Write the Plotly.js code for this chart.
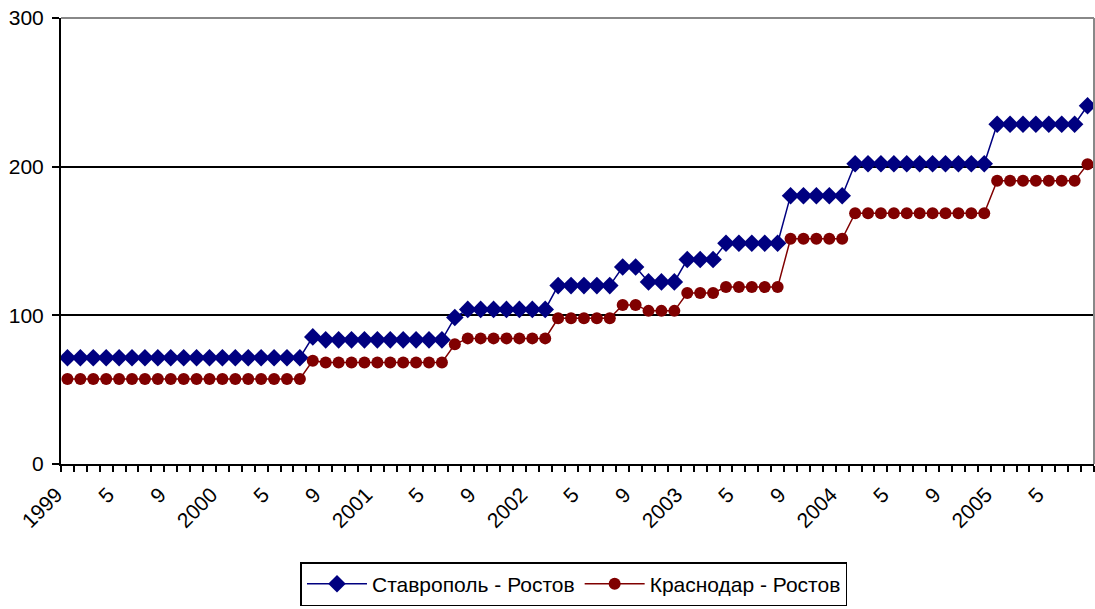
<!DOCTYPE html>
<html>
<head>
<meta charset="utf-8">
<script src="https://cdn.plot.ly/plotly-3.0.1.min.js"></script>
<style>
  html, body { margin: 0; padding: 0; background: #fff; }
  #chart { width: 1095px; height: 609px; }
</style>
</head>
<body>
<div id="chart"></div>
<script>
// Monthly tariffs, January 1999 – August 2005 (80 months)
const startYear = 1999;
const monthCount = 80;

const stavropolRostov = [
  71.5, 71.5, 71.5, 71.5, 71.5, 71.5, 71.5, 71.5, 71.5, 71.5,
  71.5, 71.5, 71.5, 71.5, 71.5, 71.5, 71.5, 71.5, 71.5, 85.5,
  83.5, 83.5, 83.5, 83.5, 83.5, 83.5, 83.5, 83.5, 83.5, 83.5,
  98.5, 104, 104, 104, 104, 104, 104, 104, 120, 120,
  120, 120, 120, 132.5, 132.5, 122.5, 122.5, 122.5, 137.5, 137.5,
  137.5, 148.5, 148.5, 148.5, 148.5, 148.5, 180.5, 180.5, 180.5, 180.5,
  180.5, 202, 202, 202, 202, 202, 202, 202, 202, 202,
  202, 202, 228.5, 228.5, 228.5, 228.5, 228.5, 228.5, 228.5, 241
];

const krasnodarRostov = [
  57.2, 57.2, 57.2, 57.2, 57.2, 57.2, 57.2, 57.2, 57.2, 57.2,
  57.2, 57.2, 57.2, 57.2, 57.2, 57.2, 57.2, 57.2, 57.2, 69.5,
  68.3, 68.3, 68.3, 68.3, 68.3, 68.3, 68.3, 68.3, 68.3, 68.3,
  80.5, 84.5, 84.5, 84.5, 84.5, 84.5, 84.5, 84.5, 98, 98,
  98, 98, 98, 107, 107, 103, 103, 103, 115, 115,
  115, 119, 119, 119, 119, 119, 151.5, 151.5, 151.5, 151.5,
  151.5, 168.7, 168.7, 168.7, 168.7, 168.7, 168.7, 168.7, 168.7, 168.7,
  168.7, 168.7, 190.5, 190.5, 190.5, 190.5, 190.5, 190.5, 190.5, 201.7
];

const seriesNames = ['Ставрополь - Ростов', 'Краснодар - Ростов'];
const yTicks = [0, 100, 200, 300];

// month index of each point; labelled every fourth month (Jan = year, May = 5, Sep = 9)
const monthIndex = stavropolRostov.map((_, i) => i);
const labelIndex = monthIndex.filter(i => i % 4 === 0);
const labelText = labelIndex.map(i => {
  const m = i % 12;
  return m === 0 ? String(startYear + i / 12) : String(m + 1);
});

const font = 'Liberation Sans, Arial, sans-serif';

const traces = [
  {
    x: monthIndex, y: stavropolRostov, name: seriesNames[0],
    type: 'scatter', mode: 'lines+markers',
    line: { color: '#000080', width: 1.5 },
    marker: { symbol: 'diamond', size: 13.5, color: '#000080' }
  },
  {
    x: monthIndex, y: krasnodarRostov, name: seriesNames[1],
    type: 'scatter', mode: 'lines+markers',
    line: { color: '#800000', width: 1.5 },
    marker: { symbol: 'circle', size: 12, color: '#800000' }
  }
];

const layout = {
  width: 1095, height: 609,
  margin: { l: 61, r: 1, t: 18, b: 145 },
  paper_bgcolor: '#fff', plot_bgcolor: '#fff',
  font: { family: font, size: 21, color: '#000' },
  showlegend: true,
  legend: {
    orientation: 'h', x: 0.4966, xanchor: 'center', y: -0.22, yanchor: 'top',
    bordercolor: '#000', borderwidth: 1.5, bgcolor: '#fff',
    font: { family: font, size: 21, color: '#000' },
    itemwidth: 60, tracegroupgap: 0
  },
  xaxis: {
    range: [-0.5, monthCount - 0.5],
    tickmode: 'array',
    tickvals: labelIndex,
    ticktext: labelText,
    tickangle: -45,
    ticklabelshift: -11,
    ticklabelstandoff: 8,
    ticks: '', ticklen: 0,
    showgrid: false, zeroline: false,
    showline: true, linecolor: '#000', linewidth: 2,
    tickfont: { family: font, size: 21, color: '#000' },
    minor: { tickmode: 'linear', tick0: -0.5, dtick: 1, ticks: 'outside', ticklen: 6, tickcolor: '#000', tickwidth: 2, showgrid: false }
  },
  yaxis: {
    range: [0, 300],
    tickmode: 'array', tickvals: yTicks,
    ticks: 'outside', ticklen: 7, tickcolor: '#000', tickwidth: 2,
    ticklabelstandoff: 4,
    showgrid: true, gridcolor: '#000', gridwidth: 2,
    zeroline: false,
    showline: true, linecolor: '#000', linewidth: 2,
    tickfont: { family: font, size: 21, color: '#000' }
  },
  shapes: [
    { type: 'line', xref: 'paper', yref: 'paper', x0: 0, x1: 1, y0: 1, y1: 1, line: { color: '#888', width: 2 }, layer: 'above' },
    { type: 'line', xref: 'paper', yref: 'paper', x0: 1, x1: 1, y0: 0, y1: 1, line: { color: '#888', width: 2 }, layer: 'above' }
  ]
};

Plotly.newPlot('chart', traces, layout, { displayModeBar: false, staticPlot: true });
</script>
</body>
</html>
